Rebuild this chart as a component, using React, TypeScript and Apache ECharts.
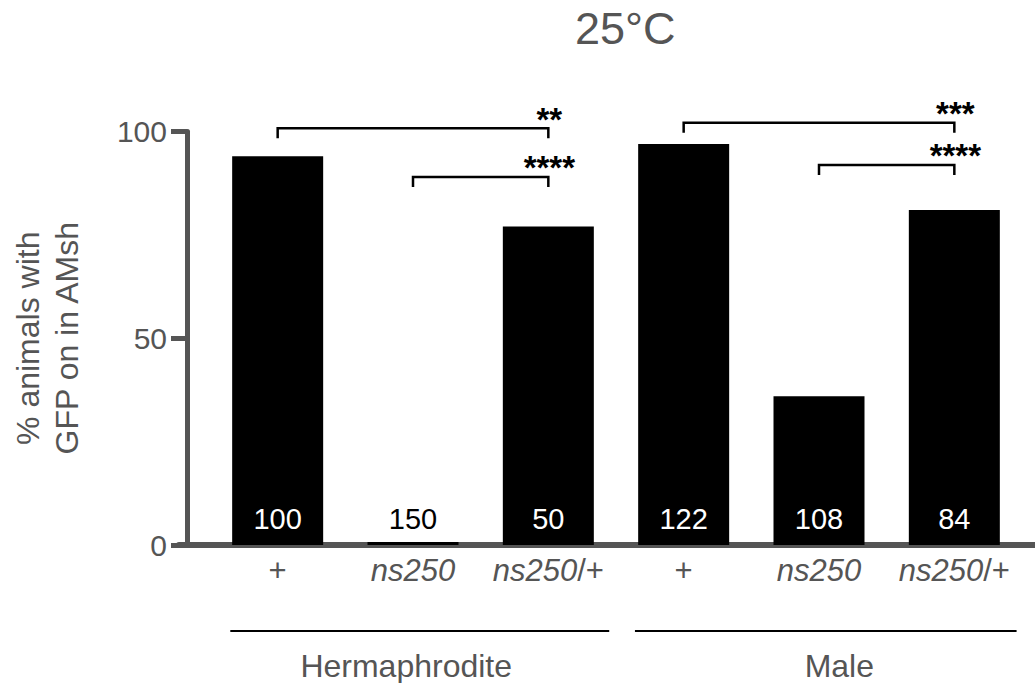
import { useEffect, useRef } from 'react';
import * as echarts from 'echarts';

// ---- data ----
const categories = ['+', 'ns250', 'ns250/+', '+', 'ns250', 'ns250/+'];
const percentGFP = [94, 0.7, 77, 97, 36, 81];
const sampleSizes = [100, 150, 50, 122, 108, 84];
const yTickValues = [0, 50, 100];
const groupNames = ['Hermaphrodite', 'Male'];
const bracketFrom = [0, 1, 3, 4];
const bracketTo = [2, 2, 5, 5];
const bracketLevel = [100.8, 89, 102.1, 91.9];
const bracketStars = ['**', '****', '***', '****'];

const FONT = '"Liberation Sans", Arial, Helvetica, sans-serif';
const GRAY = '#555555';

export default function App() {
  const ref = useRef<HTMLDivElement>(null);

  useEffect(() => {
    if (!ref.current) return;
    const chart = echarts.init(ref.current, undefined, { renderer: 'svg' });

    const option: any = {
      animation: false,
      textStyle: { fontFamily: FONT },
      title: {
        text: '25°C',
        left: 575,
        top: 6,
        padding: 0,
        textStyle: { fontSize: 45, fontWeight: 'normal', color: GRAY, fontFamily: FONT },
      },
      grid: [
        { left: 204.3, right: 13, top: 131.5, bottom: 138 },
        { left: 179, right: 0, top: 131.5, bottom: 138 },
      ],
      xAxis: [
        {
          type: 'category',
          gridIndex: 0,
          data: categories,
          axisLine: { show: false },
          axisTick: { show: false },
          axisLabel: {
            interval: 0,
            margin: 10,
            fontSize: 31,
            color: GRAY,
            fontFamily: FONT,
            formatter: (v: string) => (v.indexOf('ns250') === 0 ? '{i|ns250}' + v.slice(5) : v),
            rich: {
              i: { fontStyle: 'italic', fontSize: 31, color: GRAY, fontFamily: FONT },
            },
          },
        },
        {
          type: 'value',
          gridIndex: 1,
          min: 0,
          max: 1,
          axisLine: { show: true, lineStyle: { color: GRAY, width: 6 } },
          axisTick: { show: false },
          axisLabel: { show: false },
          splitLine: { show: false },
        },
      ],
      yAxis: [
        {
          type: 'value',
          gridIndex: 0,
          min: yTickValues[0],
          max: yTickValues[yTickValues.length - 1],
          interval: 50,
          offset: 23,
          name: '% animals with\nGFP on in AMsh',
          nameLocation: 'middle',
          nameRotate: 90,
          nameGap: 101,
          nameTextStyle: { fontSize: 32, lineHeight: 39, color: GRAY, fontFamily: FONT },
          axisLine: { show: true, lineStyle: { color: GRAY, width: 5 } },
          axisTick: { show: true, length: 16, lineStyle: { color: GRAY, width: 5 } },
          axisLabel: { margin: 20, fontSize: 30, color: GRAY, fontFamily: FONT },
          splitLine: { show: false },
        },
        { type: 'value', gridIndex: 1, show: false, min: 0, max: 1 },
      ],
      series: [
        {
          type: 'bar',
          xAxisIndex: 0,
          yAxisIndex: 0,
          barWidth: 91,
          itemStyle: { color: '#000' },
          data: percentGFP.map((v) => ({
            value: v,
            label: { color: v < 10 ? '#000' : '#fff' },
          })),
          label: {
            show: true,
            position: 'insideBottom',
            distance: 12,
            fontSize: 29,
            fontFamily: FONT,
            formatter: (p: any) => String(sampleSizes[p.dataIndex]),
          },
        },
      ],
    };
    chart.setOption(option);

    const xPix = (i: number) => {
      const a = chart.convertToPixel({ xAxisIndex: 0 }, 0) as number;
      const b = chart.convertToPixel({ xAxisIndex: 0 }, 1) as number;
      return a + (b - a) * i;
    };
    const yPix = (v: number) => chart.convertToPixel({ yAxisIndex: 0 }, v) as number;

    const elements: any[] = [];
    bracketFrom.forEach((f, k) => {
      const x1 = xPix(f);
      const x2 = xPix(bracketTo[k]);
      const yH = yPix(bracketLevel[k]);
      elements.push({
        type: 'polyline',
        shape: { points: [[x1, yH + 10], [x1, yH], [x2, yH], [x2, yH + 10]] },
        style: { stroke: '#000', lineWidth: 2.5, fill: null },
      });
      elements.push({
        type: 'text',
        x: x2 + 1,
        y: yH - 9,
        style: {
          text: bracketStars[k],
          align: 'center',
          verticalAlign: 'middle',
          fontSize: 33,
          fontWeight: 'bold',
          fontFamily: FONT,
          fill: '#000',
        },
      });
    });

    const groupStart = [-0.35, 2.64];
    const groupEnd = [2.45, 5.46];
    const groupLabelAt = [0.95, 4.15];
    const y0 = yPix(0);
    groupNames.forEach((g, k) => {
      elements.push({
        type: 'line',
        shape: { x1: xPix(groupStart[k]), y1: y0 + 86, x2: xPix(groupEnd[k]), y2: y0 + 86 },
        style: { stroke: '#000', lineWidth: 2 },
      });
      elements.push({
        type: 'text',
        x: xPix(groupLabelAt[k]),
        y: y0 + 121,
        style: {
          text: g,
          align: 'center',
          verticalAlign: 'middle',
          fontSize: 32,
          fontFamily: FONT,
          fill: GRAY,
        },
      });
    });

    chart.setOption({ graphic: { elements } });

    return () => chart.dispose();
  }, []);

  return (
    <div
      ref={ref}
      style={{ position: 'fixed', left: 0, top: 0, width: 1035, height: 683, background: '#fff' }}
    />
  );
}
